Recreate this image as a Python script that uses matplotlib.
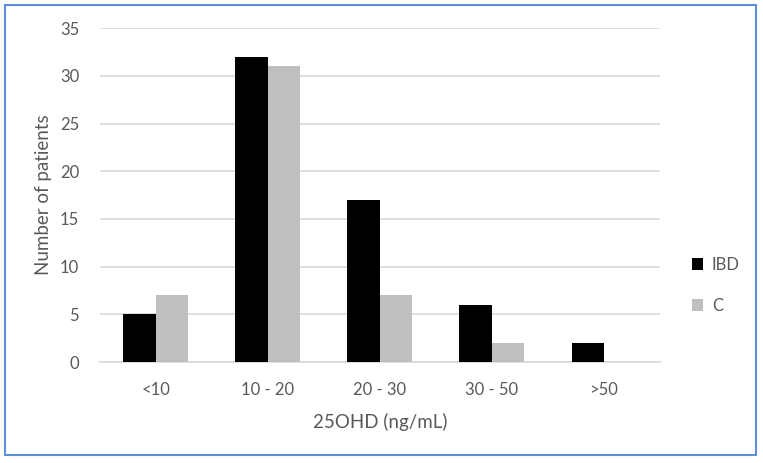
import numpy as np
import matplotlib.pyplot as plt
from matplotlib.patches import Rectangle

# datos
categorias = ["<10", "10 - 20", "20 - 30", "30 - 50", ">50"]
ibd = [5, 32, 17, 6, 2]
control = [7, 31, 7, 2, 0]

plt.rcParams['font.family'] = ['Lato', 'DejaVu Sans']
gris_texto = "#595959"

fig = plt.figure(figsize=(7.63, 4.63), dpi=100)
ax = fig.add_axes([0.131, 0.218, 0.734, 0.721])

x = np.arange(len(categorias))
ancho = 0.29
ax.bar(x - ancho / 2, ibd, ancho, color="black", label="IBD", zorder=3)
ax.bar(x + ancho / 2, control, ancho, color="#bfbfbf", label="C", zorder=3)

ax.set_xlim(-0.5, len(categorias) - 0.5)
ax.set_ylim(0, 35)
ax.set_yticks(range(0, 36, 5))
ax.set_xticks(x)
ax.set_xticklabels(categorias)
ax.yaxis.grid(True, color="#d9d9d9", linewidth=1.2, zorder=0)
ax.tick_params(length=0, colors=gris_texto, labelsize=12)
ax.tick_params(axis="y", pad=15)
ax.tick_params(axis="x", pad=14)
for lado in ["top", "right", "left"]:
    ax.spines[lado].set_visible(False)
ax.spines["bottom"].set_color("#d9d9d9")
ax.spines["bottom"].set_linewidth(1.2)

ax.set_xlabel("25OHD (ng/mL)", color=gris_texto, fontsize=13.5, labelpad=11)
ax.set_ylabel("Number of patients", color=gris_texto, fontsize=13.5, labelpad=6)

ax.legend(loc="center left", bbox_to_anchor=(1.03, 0.23), frameon=False,
          fontsize=12, labelcolor=gris_texto, handlelength=0.7, handleheight=0.7,
          labelspacing=1.5, handletextpad=0.5)

# borde azul alrededor de la figura
fig.patches.append(Rectangle((5 / 763, 8 / 463), 751 / 763, 450 / 463,
                             transform=fig.transFigure, fill=False,
                             edgecolor="#5b8fd6", linewidth=1.5))

fig.savefig("out.png", dpi=100)
